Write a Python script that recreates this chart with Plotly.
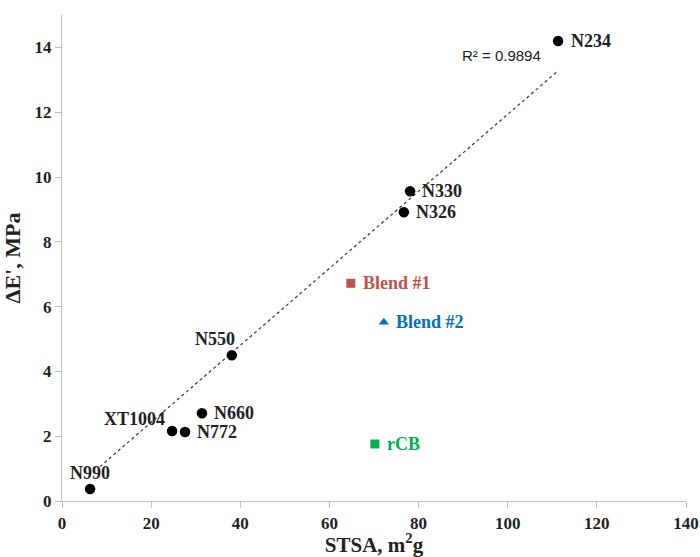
import plotly.graph_objects as go

# Carbon black grades
cb_names = ["N234", "N330", "N326", "N550", "N660", "N772", "XT1004", "N990"]
cb_stsa = [111.3, 78.1, 76.7, 38.1, 31.4, 27.6, 24.7, 6.3]
cb_dE = [14.2, 9.56, 8.91, 4.50, 2.71, 2.13, 2.16, 0.37]

# Other samples
blend1_stsa, blend1_dE = [64.8], [6.72]
blend2_stsa, blend2_dE = [72.2], [5.52]
rcb_stsa, rcb_dE = [70.2], [1.76]

# Linear trendline end points
trend_stsa = [8.5, 111.4]
trend_dE = [1.06, 13.29]
r2_text = "R² = 0.9894"

x_ticks = [0, 20, 40, 60, 80, 100, 120, 140]
y_ticks = [0, 2, 4, 6, 8, 10, 12, 14]

serif = "Liberation Serif"
txt = "#222222"

fig = go.Figure()

fig.add_trace(go.Scatter(x=trend_stsa, y=trend_dE, mode="lines",
                         line=dict(color="#333333", width=1.2, dash="dot"),
                         hoverinfo="skip", showlegend=False))

fig.add_trace(go.Scatter(x=cb_stsa, y=cb_dE, mode="markers",
                         marker=dict(color="black", size=10.5, symbol="circle"),
                         showlegend=False))
fig.add_trace(go.Scatter(x=blend1_stsa, y=blend1_dE, mode="markers",
                         marker=dict(color="#C0504D", size=9, symbol="square"),
                         showlegend=False))
fig.add_trace(go.Scatter(x=blend2_stsa, y=blend2_dE, mode="markers",
                         marker=dict(color="#0070C0", size=9, symbol="triangle-up"),
                         showlegend=False))
fig.add_trace(go.Scatter(x=rcb_stsa, y=rcb_dE, mode="markers",
                         marker=dict(color="#00B050", size=9, symbol="square"),
                         showlegend=False))

# label offsets (pixels): name -> (xanchor, xshift, yshift)
label_style = {
    "N234": ("left", 11, 0),
    "N330": ("left", 10, 0),
    "N326": ("left", 10, 0),
    "N550": ("center", -17, 16),
    "N660": ("left", 10, 0),
    "N772": ("left", 10, 0),
    "XT1004": ("right", -5, 12),
    "N990": ("center", 0, 16),
}
for n, x, y in zip(cb_names, cb_stsa, cb_dE):
    xa, xs, ys = label_style[n]
    fig.add_annotation(x=x, y=y, text=n, showarrow=False, xanchor=xa,
                       xshift=xs, yshift=ys,
                       font=dict(family=serif, size=18, color=txt, weight="bold"))

for text, xs_, ys_, col in [("Blend #1", blend1_stsa, blend1_dE, "#C0504D"),
                            ("Blend #2", blend2_stsa, blend2_dE, "#0070C0"),
                            ("rCB", rcb_stsa, rcb_dE, "#00B050")]:
    fig.add_annotation(x=xs_[0], y=ys_[0], text=text, showarrow=False,
                       xanchor="left", xshift=10,
                       font=dict(family=serif, size=18, color=col, weight="bold"))

fig.add_annotation(x=cb_stsa[0], y=cb_dE[0], text=r2_text, showarrow=False,
                   xanchor="right", xshift=-15, yshift=-15,
                   font=dict(family="Liberation Sans", size=15, color=txt))

axis_common = dict(showgrid=False, zeroline=False, showline=True,
                   linecolor="#BFBFBF", linewidth=1.3, ticks="outside",
                   tickcolor="#BFBFBF", ticklen=6, automargin=False,
                   tickfont=dict(family=serif, size=17, color=txt, weight="bold"))

fig.update_xaxes(range=[0, 140], tickvals=x_ticks,
                 title=dict(text="STSA, m<sup>2</sup>g", standoff=9,
                            font=dict(family=serif, size=21, color=txt, weight="bold")),
                 **axis_common)
fig.update_yaxes(range=[0, 15], tickvals=y_ticks,
                 title=dict(text="ΔE', MPa", standoff=12,
                            font=dict(family=serif, size=22, color=txt, weight="bold")),
                 **axis_common)

fig.update_layout(width=700, height=557, margin=dict(l=62, r=14, t=15, b=56),
                  plot_bgcolor="white", paper_bgcolor="white")

fig.write_html("out.html")
